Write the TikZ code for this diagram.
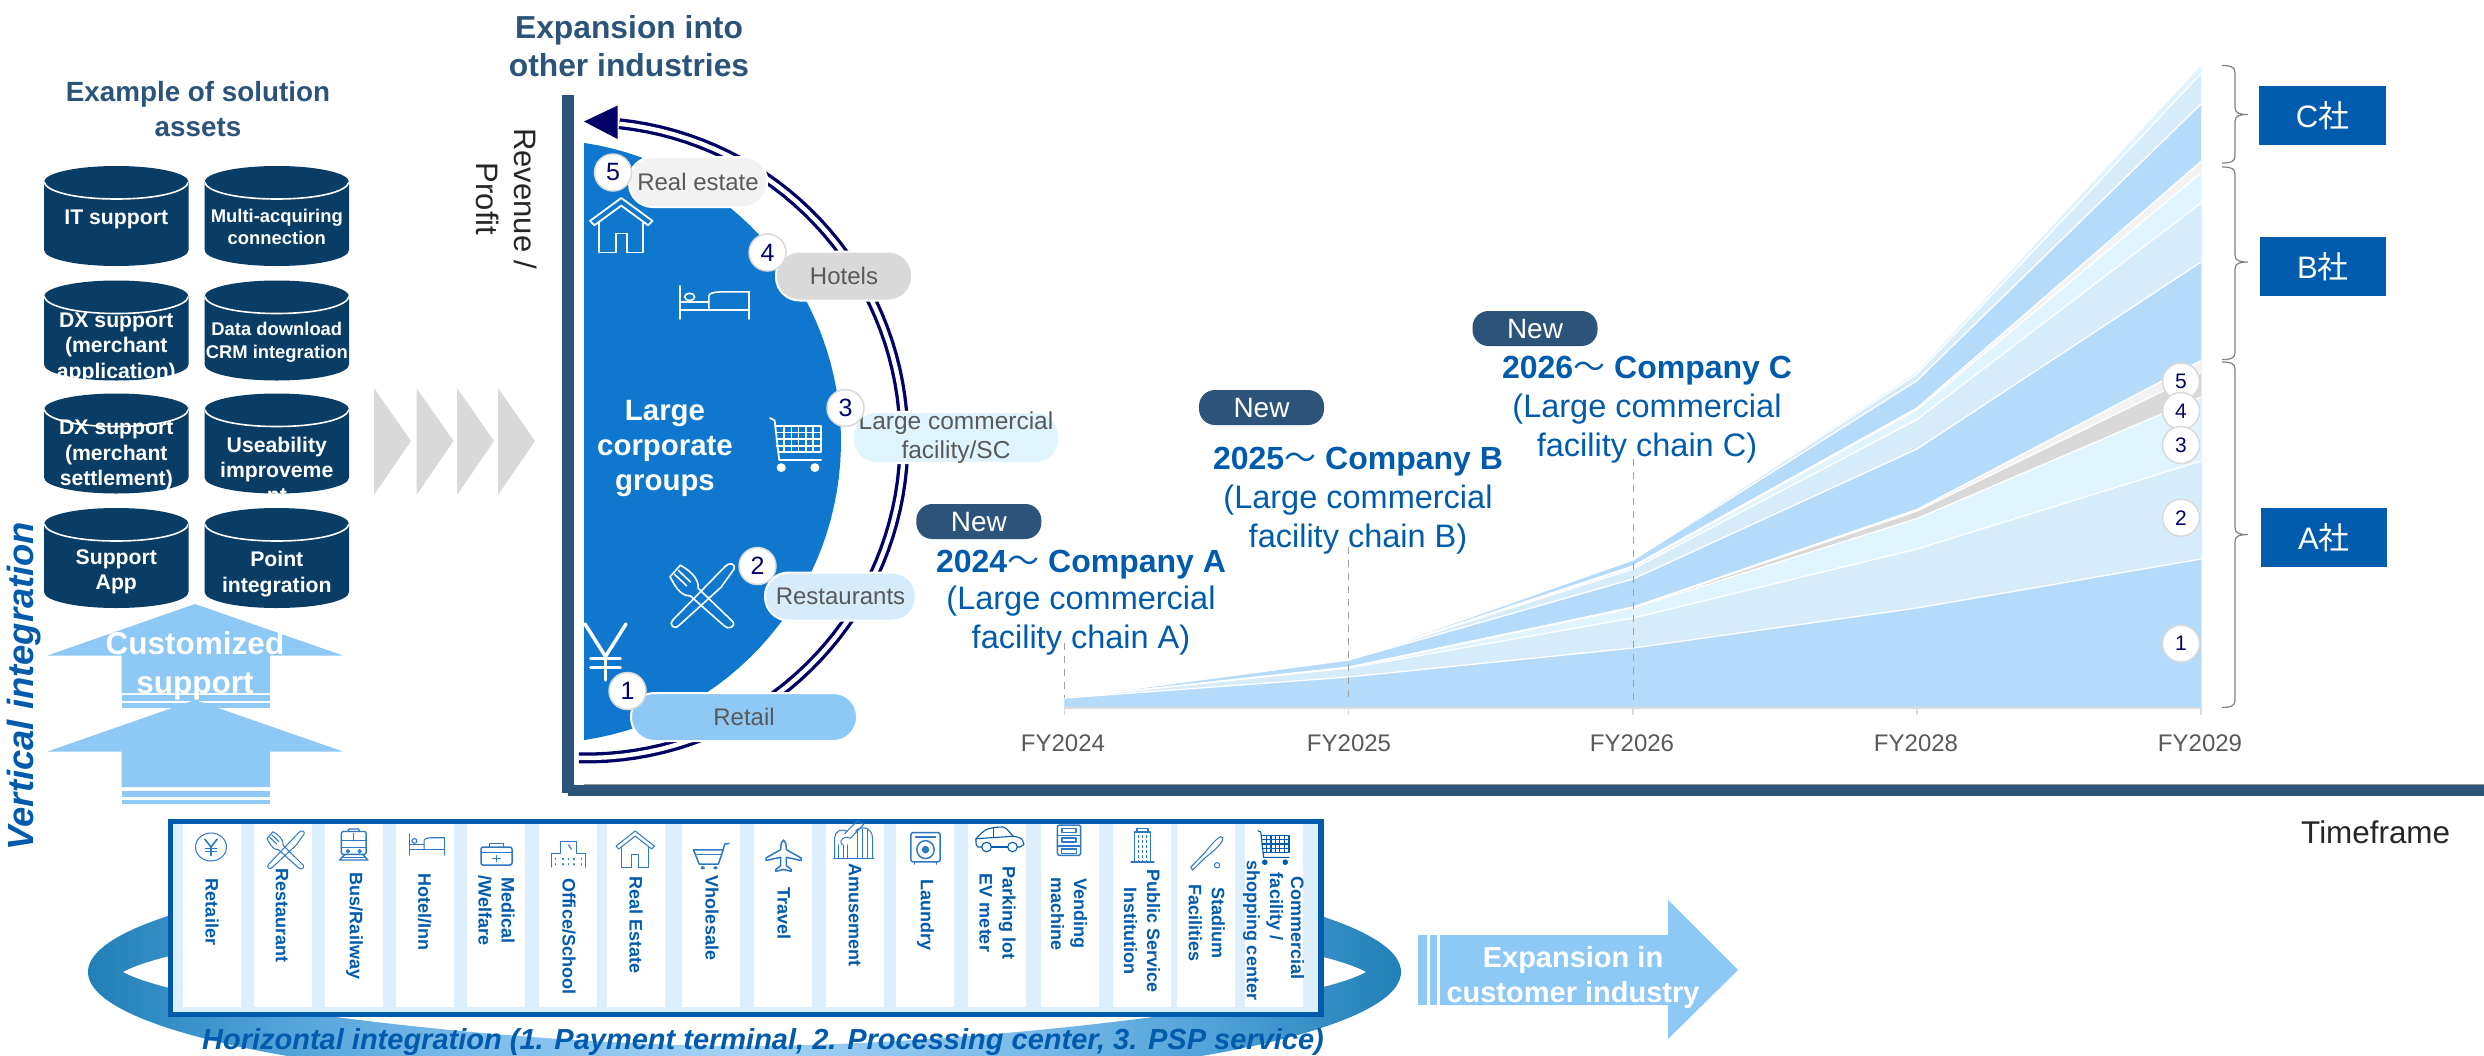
\documentclass[tikz,border=0pt]{standalone}
\usepackage{fontspec}
\setmainfont{Liberation Sans}
\newfontfamily\cjk{Noto Sans CJK JP}
\definecolor{ttl}{HTML}{2C5379}
\definecolor{cyl}{HTML}{0A3D66}
\definecolor{arr}{HTML}{8EC8F5}
\definecolor{navyx}{HTML}{000066}
\definecolor{disc}{HTML}{0F78CE}
\definecolor{brand}{HTML}{005BAC}
\definecolor{bA}{HTML}{B5DBFA}
\definecolor{bB}{HTML}{D7ECFB}
\definecolor{bC}{HTML}{DFF4FE}
\definecolor{gD}{HTML}{D9D9D9}
\definecolor{gE}{HTML}{F2F2F2}
\definecolor{txg}{HTML}{595959}
\definecolor{icb}{HTML}{2F78C4}
\definecolor{ringa}{HTML}{2080B8}
\definecolor{ringb}{HTML}{55A5DA}
\definecolor{ringc}{HTML}{7DBDEA}
\definecolor{ringd}{HTML}{A5D2F5}
\pgfdeclarehorizontalshading{ringsh}{100bp}{color(0bp)=(ringa);color(25bp)=(ringa);color(33bp)=(ringb);color(40bp)=(ringc);color(50bp)=(ringd);color(60bp)=(ringc);color(67bp)=(ringb);color(75bp)=(ringa);color(100bp)=(ringa)}
\newcommand{\fsz}[2]{\fontsize{#1}{#2}\selectfont}
\tikzset{
 lbl/.style={inner sep=0pt,align=center},
 pill/.style={rectangle,rounded corners=23.5pt,inner sep=0pt,align=center,draw=white,line width=2pt,text=txg},
 newpill/.style={rectangle,rounded corners=16pt,inner sep=0pt,minimum width=125pt,minimum height=35pt,fill=ttl,text=white,font=\fsz{28}{30}},
 badge/.style={circle,inner sep=0pt,minimum size=37pt,fill=white,draw=gD,line width=1.5pt,text=navyx},
 co/.style={lbl,text=brand,font=\bfseries\fsz{32}{38}},
 cosub/.style={lbl,text=brand,font=\fsz{32.5}{39}},
 col/.style={lbl,rotate=-90,text=brand,font=\bfseries\fsz{18}{23}},
 box/.style={inner sep=0pt,fill=brand,text=white,font=\fsz{31}{33}},
 fy/.style={lbl,text=txg,font=\fsz{24}{26}},
 whitebold/.style={lbl,text=white,font=\bfseries},
 bracel/.style={draw=gray,line width=1.2pt},
 tickl/.style={draw=gD,line width=1.5pt},
 dashl/.style={draw=gray!75,line width=1.1pt,dash pattern=on 7pt off 6pt}
}
% cylinder: x centre, top y, name, text y, font size, baseline, text
\newcommand{\cylnode}[7]{%
 \begin{scope}
  \def\cpath{({#1-72.25},{#2+16}) -- ({#1-72.25},{#2+84}) .. controls ({#1-72.25},{#2+93}) and ({#1-40},{#2+100}) .. ({#1},{#2+100}) .. controls ({#1+40},{#2+100}) and ({#1+72.25},{#2+93}) .. ({#1+72.25},{#2+84}) -- ({#1+72.25},{#2+16}) .. controls ({#1+72.25},{#2+7}) and ({#1+40},{#2}) .. ({#1},{#2}) .. controls ({#1-40},{#2}) and ({#1-72.25},{#2+7}) .. cycle}
  \fill[cyl] \cpath;
  \clip \cpath;
  \node[whitebold,font=\bfseries\fsz{#5}{#6}] (#3) at (#1,{#4+2}) {#7};
  \draw[white,line width=1.6pt] ({#1-72.25},{#2+16}) .. controls ({#1-70},{#2+26}) and ({#1-40},{#2+33}) .. ({#1},{#2+33}) .. controls ({#1+40},{#2+33}) and ({#1+70},{#2+26}) .. ({#1+72.25},{#2+16});
 \end{scope}}
% stacked band: colour, five tops
\newcommand{\band}[6]{%
 \fill[#1] (1064.5,#2) -- (1348.5,#3) -- (1633,#4) -- (1917,#5) -- (2201,#6) -- (2201,708) -- (1064.5,708) -- cycle;
 \draw[white,line width=1.3pt] (1064.5,#2) -- (1348.5,#3) -- (1633,#4) -- (1917,#5) -- (2201,#6);}
% brace: top y, tip y, bottom y
\newcommand{\bracex}[3]{%
 \draw[bracel] (2222,#1) .. controls (2230,#1) and (2235,{#1+1}) .. (2235,{#1+7}) -- (2235,{#2-7}) .. controls (2235,{#2-1}) and (2240,#2) .. (2248,#2) .. controls (2240,#2) and (2235,{#2+1}) .. (2235,{#2+7}) -- (2235,{#3-7}) .. controls (2235,{#3-1}) and (2230,#3) .. (2222,#3);}
% icon in a box: x0 y0 x1 y1 colour linewidth drawing (0..100 both ways)
\newcommand{\icon}[7]{%
 \pgfmathsetmacro{\sx}{(#3-#1)/100}\pgfmathsetmacro{\sy}{(#4-#2)/100}%
 \begin{scope}[shift={(#1,#2)},x=\sx pt,y=-\sy pt,ic/.style={draw=#5,line width=#6pt,line join=round,line cap=round},fc/.style={fill=#5}]
 #7
 \end{scope}}
\newcommand{\icHouse}{\draw[ic] (0,42)--(50,0)--(100,42)--(93,50)--(50,14)--(7,50)--cycle;
 \draw[ic] (15,46)--(15,100)--(41,100)--(41,65)--(59,65)--(59,100)--(85,100)--(85,46);}
\newcommand{\icBed}{\draw[ic] (1,0)--(1,100); \draw[ic] (99,18)--(99,100); \draw[ic] (1,72)--(99,72);
 \draw[ic] (42,72)--(42,30) .. controls (42,22) and (50,18) .. (58,18)--(99,18);
 \draw[ic] (1,48)--(42,48); \draw[ic] (15,33) ellipse [x radius=7,y radius=11];}
\newcommand{\icFork}{\draw[ic] (100,8) .. controls (104,0) and (92,-4) .. (86,4) -- (4,88) .. controls (-2,94) and (6,104) .. (14,96) -- (56,58) -- (80,36) -- cycle;
 \draw[ic] (44,38) -- (98,90) .. controls (104,98) and (90,104) .. (84,96) -- (32,50);
 \draw[ic] (32,50) .. controls (14,50) and (6,30) .. (0,20) -- (16,2) .. controls (28,8) and (46,22) .. (44,38);
 \draw[ic] (7,16)--(26,34); \draw[ic] (13,10)--(32,28);}
\newcommand{\icCart}{\draw[ic] (0,2)--(9,6)--(18,78)--(100,78); \draw[ic] (12,16)--(100,16)--(100,64)--(16,64);
 \foreach \u in {28,42,56,70,85}{\draw[ic] (\u,16)--(\u,64);}
 \foreach \v in {28,40,52}{\draw[ic] (13,\v)--(100,\v);}
 \fill[fc] (22,92) ellipse [x radius=9,y radius=8]; \fill[fc] (88,92) ellipse [x radius=9,y radius=8];}
\newcommand{\icYen}{\draw[ic] (0,0)--(50,58)--(100,0); \draw[ic] (50,58)--(50,100); \draw[ic] (14,62)--(86,62); \draw[ic] (14,78)--(86,78);}
\begin{document}
\begin{tikzpicture}[x=1pt,y=-1pt]
\useasboundingbox (0,0) rectangle (2484,1055);
\fill[white] (0,0) rectangle (2484,1055);
% --- titles
\node[lbl,text=ttl,font=\bfseries\fsz{27.8}{34.5}] (tAssets) at (198,109) {Example of solution\\assets};
\node[lbl,text=ttl,font=\bfseries\fsz{31.8}{38.5}] (tExp) at (629,46) {Expansion into\\other industries};
% --- cylinders
\cylnode{116.3}{166}{c1}{217}{21.2}{25}{IT support}
\cylnode{276.8}{166}{c2}{225}{18.4}{22.5}{Multi-acquiring\\connection}
\cylnode{116.3}{280.5}{c3}{345.5}{21.2}{25.5}{DX support\\(merchant\\application)}
\cylnode{276.8}{280.5}{c4}{340}{18.4}{23}{Data download\\CRM integration}
\cylnode{116.3}{393.5}{c5}{453}{21.2}{25.5}{DX support\\(merchant\\settlement)}
\cylnode{276.8}{393.5}{c6}{468}{21.2}{25}{Useability\\improveme\\nt}
\cylnode{116.3}{508}{c7}{570}{21.2}{25.5}{Support\\App}
\cylnode{276.8}{508}{c8}{572}{21.2}{25.5}{Point\\integration}
% --- vertical arrows
\fill[arr] (195,604) -- (343,655.5) -- (270,655.5) -- (270,693) -- (121.5,693) -- (121.5,655.5) -- (47.5,655.5) -- cycle;
\fill[arr] (121.5,695) rectangle (270,700.5);
\fill[arr] (121.5,703) rectangle (270,708);
\fill[arr] (195,700) -- (343,751.5) -- (270,751.5) -- (270,787) -- (121.5,787) -- (121.5,751.5) -- (47.5,751.5) -- cycle;
\fill[arr] (121.5,791) rectangle (270,797);
\fill[arr] (121.5,800) rectangle (270,804);
\node[whitebold,font=\bfseries\fsz{31.5}{38.5}] (cust) at (195,666) {Customized\\support};
\node[lbl,rotate=90,text=brand,font=\bfseries\itshape\fsz{36.4}{40}] (vert) at (24,686) {Vertical integration};
% --- chevrons
\foreach \a in {374,416.5,457,498}{\fill[gD] (\a,388) -- ({\a+37},441) -- (\a,495) -- cycle;}
% --- axis
\fill[ttl] (562,95) rectangle (574,793);
\fill[ttl] (568,785) rectangle (2484,796);
\draw[gray!80,line width=.8pt] (584,784.6) -- (2484,784.6);
\node[lbl,rotate=-90,text=black!85,font=\fsz{31}{38}] (revp) at (507,199) {Revenue /\\Profit};
\node[lbl,text=black!85,font=\fsz{31.4}{33},anchor=west] (time) at (2301,832) {Timeframe};
% --- double arc
\draw[navyx,line width=3.3pt,double=white,double distance=4.4pt] plot[domain=91.3:-84,samples=70] ({586+318*cos(\x)},{440+318*sin(\x)});
\fill[navyx] (584,121.5) -- (617.5,105.6) -- (617.5,139) -- cycle;
% --- disc
\fill[disc] plot[domain=-81.4:81.4,samples=60] ({539+302*cos(\x)},{441.5+302*sin(\x)}) -- cycle;
\icon{590}{198}{652.5}{252.5}{white}{1.8}{\icHouse}
\icon{679}{286}{750}{319}{white}{1.6}{\icBed}
\icon{770}{417}{821}{472}{white}{1.8}{\icCart}
\icon{670}{564}{734}{628}{white}{1.6}{\icFork}
\icon{585}{624}{626}{680}{white}{3.5}{\icYen}
\node[whitebold,font=\bfseries\fsz{29.4}{35}] (lcg) at (665,448.5) {Large\\corporate\\groups};
% --- pills
\node[pill,minimum width=138pt,minimum height=50pt,fill=gE,font=\fsz{24}{28}] (pRE) at (698,182) {Real estate};
\node[pill,minimum width=136pt,minimum height=49pt,fill=gD,font=\fsz{24}{28}] (pHo) at (844,276) {Hotels};
\node[pill,minimum width=206pt,minimum height=50pt,fill=bC,font=\fsz{24.5}{28.5}] (pLC) at (956,437.5) {Large commercial\\facility/SC};
\node[pill,minimum width=151pt,minimum height=48pt,fill=bB,font=\fsz{24}{28}] (pRs) at (840.5,596.5) {Restaurants};
\node[pill,minimum width=226pt,minimum height=48pt,fill=arr,font=\fsz{24}{28}] (pRt) at (744,717) {Retail};
\node[badge,font=\fsz{25}{26}] (b5) at (613,172.5) {5};
\node[badge,font=\fsz{25}{26}] (b4) at (767.5,252.5) {4};
\node[badge,font=\fsz{25}{26}] (b3) at (845.5,408) {3};
\node[badge,font=\fsz{25}{26}] (b2) at (757.5,566) {2};
\node[badge,font=\fsz{25}{26}] (b1) at (627.5,691) {1};
% --- stacked chart
\band{bC}{698}{660}{559}{371}{64.5}
\band{bB}{698}{660}{559.5}{374}{73.5}
\band{bA}{698}{660}{560}{380.6}{104}
\band{gE}{698}{660}{566}{408}{161.4}
\band{bC}{698}{660}{566.7}{409.6}{173}
\band{bB}{698}{660}{569}{419.5}{203}
\band{bA}{698}{660}{579}{449}{262}
\band{gE}{698}{667.2}{607}{509.5}{360.5}
\band{gD}{698}{667.3}{607.5}{511}{372.6}
\band{bC}{698}{667.5}{608}{518.6}{397}
\band{bB}{698}{668}{618}{549}{461}
\band{bA}{698}{677}{648}{608}{559}
\draw[tickl] (1064.5,708) -- (2201,708);
\foreach \t in {1064.5,1348.5,1633,1917,2201}{\draw[tickl] (\t,708) -- (\t,715);}
\draw[dashl] (1064.5,643) -- (1064.5,698);
\draw[dashl] (1348.5,547) -- (1348.5,700);
\draw[dashl] (1633.5,459) -- (1633.5,700);
\node[fy] (fy24) at (1063,743) {FY2024};
\node[fy] (fy25) at (1349,743) {FY2025};
\node[fy] (fy26) at (1632,743) {FY2026};
\node[fy] (fy28) at (1916,743) {FY2028};
\node[fy] (fy29) at (2200,743) {FY2029};
\node[badge,font=\fsz{21}{22}] (s5) at (2181,381.5) {5};
\node[badge,font=\fsz{21}{22}] (s4) at (2181,411) {4};
\node[badge,font=\fsz{21}{22}] (s3) at (2181,445) {3};
\node[badge,font=\fsz{21}{22}] (s2) at (2181,517.7) {2};
\node[badge,font=\fsz{21}{22}] (s1) at (2181,643.6) {1};
% --- new + company labels
\node[newpill] (n1) at (978.8,521.5) {New};
\node[newpill] (n2) at (1261.5,407.5) {New};
\node[newpill] (n3) at (1535,328.5) {New};
\node[co] (ca) at (1081,564.5) {2024{\mdseries\cjk 〜} Company A};
\node[cosub] (sa) at (1081,621) {(Large commercial\\facility chain A)};
\node[co] (cb) at (1358,461.5) {2025{\mdseries\cjk 〜} Company B};
\node[cosub] (sb) at (1358,520) {(Large commercial\\facility chain B)};
\node[co] (cc) at (1647,370.5) {2026{\mdseries\cjk 〜} Company C};
\node[cosub] (sc) at (1647,429) {(Large commercial\\facility chain C)};
% --- braces and boxes
\bracex{65.5}{114.5}{163}
\bracex{167}{262}{359.6}
\bracex{362}{534.6}{707.4}
\node[box,minimum width=127pt,minimum height=59pt] (bxC) at (2322.5,115.5) {C{\cjk 社}};
\node[box,minimum width=126pt,minimum height=59pt] (bxB) at (2323,266.5) {B{\cjk 社}};
\node[box,minimum width=126pt,minimum height=59pt] (bxA) at (2324,537.5) {A{\cjk 社}};
% --- ring
\begin{scope}
\clip (0,0) rectangle (2484,1055);
\shade[even odd rule,shading=ringsh]
 (744.5,972) ellipse [x radius=656.5pt,y radius=117pt]
 (123,972) .. controls (180,1005) and (520,1046) .. (744.5,1046) .. controls (969,1046) and (1309,1005) .. (1366,972)
 .. controls (1309,939) and (969,898) .. (744.5,898) .. controls (520,898) and (180,939) .. (123,972) -- cycle;
\end{scope}
% --- industry box
\fill[brand] (167.6,819) rectangle (1323.6,1017);
\fill[bB!85!white] (173.4,824.3) rectangle (1318,1012);
\foreach \a/\b in {182.5/241,254/312,325/383,396/454,467/525,539/597,607/665,682/740,754/812,826/884,896/954,968/1026,1041/1099,1113/1171,1177/1235,1245/1303}{\fill[white] (\a,824.3) rectangle (\b,1006.7);}
% small icons
\icon{195.5}{833}{226.5}{861}{icb}{1}{\draw[ic] (50,50) ellipse [x radius=50,y radius=50]; \draw[ic,line width=1.6pt] (30,22)--(50,50)--(70,22); \draw[ic,line width=1.6pt] (50,50)--(50,80); \draw[ic] (32,55)--(68,55); \draw[ic] (32,66)--(68,66);}
\icon{267}{831}{304}{869}{icb}{1}{\icFork}
\icon{339}{829}{368.5}{860}{icb}{1.4}{\draw[ic,rounded corners=2pt] (8,8) rectangle (92,82); \draw[ic] (30,8)--(34,0)--(66,0)--(70,8); \draw[ic] (8,38)--(92,38); \draw[ic] (50,14)--(50,38); \draw[ic] (8,60)--(92,60); \draw[ic] (30,72) circle [radius=5]; \draw[ic] (70,72) circle [radius=5]; \draw[ic] (20,82)--(2,100)--(98,100)--(80,82); \draw[ic] (14,91)--(86,91);}
\icon{409}{834}{445}{855}{icb}{1.1}{\icBed}
\icon{481}{842}{512}{865}{icb}{1.5}{\draw[ic,rounded corners=2pt] (0,22) rectangle (100,100); \draw[ic] (28,22)--(28,6)--(72,6)--(72,22); \draw[ic] (0,45)--(100,45); \draw[ic] (50,60)--(50,85); \draw[ic] (38,72)--(62,72);}
\icon{550}{840}{587}{867}{icb}{1.2}{\draw[ic] (3,100)--(3,50)--(28,50)--(28,5)--(72,5)--(72,50)--(97,50)--(97,100); \draw[ic] (50,18)--(58,34); \foreach \u in {15,35,65,85}{\draw[ic] (\u,68)--(\u,72); \draw[ic] (\u,88)--(\u,92);} \foreach \u in {50}{\draw[ic] (\u,68)--(\u,72); \draw[ic] (\u,88)--(\u,92);}}
\icon{616}{831}{654.4}{867}{icb}{1}{\icHouse}
\icon{693.5}{843}{729}{870}{icb}{1.5}{\draw[ic] (0,25)--(84,25)--(70,78)--(16,78)--cycle; \draw[ic] (84,25)--(88,4)--(100,2); \draw[ic] (10,42)--(78,42); \fill[fc] (26,92) circle [radius=6]; \fill[fc] (62,92) circle [radius=6];}
\icon{766}{840}{801}{872}{icb}{1.5}{\draw[ic] (50,0) .. controls (44,4) and (42,12) .. (42,30) -- (0,56) -- (0,64) -- (42,54) -- (42,80) -- (28,92) -- (28,98) -- (50,92) -- (72,98) -- (72,92) -- (58,80) -- (58,54) -- (100,64) -- (100,56) -- (58,30) .. controls (58,12) and (56,4) .. (50,0) -- cycle;}
\icon{833.5}{825}{873.7}{858}{icb}{1}{\draw[ic] (0,100)--(100,100); \draw[ic] (3,100)--(3,38) .. controls (3,20) and (20,8) .. (34,20); \draw[ic] (55,18) .. controls (70,0) and (97,8) .. (97,40) -- (97,100); \foreach \u in {12,24,36,60,72,84}{\draw[ic] (\u,60)--(\u,100);} \foreach \u in {60,72,84}{\draw[ic] (\u,12)--(\u,60);} \draw[ic] (22,60) .. controls (10,45) and (30,30) .. (42,40) -- (75,-2) -- (60,-14) -- (28,26); }
\icon{910}{832}{941}{864}{icb}{1.5}{\draw[ic,rounded corners=2pt] (3,2) rectangle (97,93); \draw[ic] (18,16)--(82,16); \draw[ic] (50,55) circle [radius=28]; \fill[fc] (50,55) circle [radius=12]; \draw[ic] (15,93)--(15,100); \draw[ic] (85,93)--(85,100);}
\icon{976}{827}{1024}{852}{brand}{1.1}{\draw[ic] (12,80)--(4,80) .. controls (0,78) and (0,70) .. (0,47) .. controls (8,30) and (18,10) .. (26,7) .. controls (36,1) and (48,0) .. (57,0) .. controls (66,6) and (72,28) .. (78,37) .. controls (88,40) and (96,46) .. (97,53) -- (100,70) -- (92,80) -- (86,80); \draw[ic] (32,80)--(66,80); \draw[ic] (0,47)--(78,37); \draw[ic] (36,3)--(36,42); \draw[ic] (22,80) ellipse [x radius=10,y radius=19]; \draw[ic] (76,80) ellipse [x radius=10,y radius=19];}
\icon{1057}{825}{1081}{858}{icb}{1.5}{\draw[ic,rounded corners=2pt] (2,0) rectangle (98,92); \draw[ic] (2,32)--(98,32); \draw[ic] (2,64)--(98,64); \draw[ic] (20,10) rectangle (80,22); \draw[ic] (20,40) rectangle (80,52); \draw[ic] (18,72) rectangle (82,86);}
\icon{1131}{828}{1154}{862}{icb}{1.2}{\draw[ic] (0,100)--(100,100); \draw[ic] (16,100)--(16,12)--(84,12)--(84,100); \draw[ic] (26,12)--(26,2)--(74,2)--(74,12); \foreach \u in {32,50,68}{\draw[icb,line width=1.6pt,dash pattern=on 3pt off 2pt] (\u,20)--(\u,96);}}
\icon{1190}{836}{1223}{870}{icb}{1}{\draw[ic] (2,92) -- (44,50) .. controls (62,28) and (82,6) .. (92,2) .. controls (100,0) and (102,8) .. (98,14) .. controls (90,28) and (70,46) .. (48,62) -- (8,100) -- cycle; \draw[ic] (82,86) ellipse [x radius=8,y radius=8];}
\icon{1258}{830}{1289}{865}{brand}{1.1}{\icCart}
% column labels
\node[col] (l1) at (212,912) {Retailer};
\node[col] (l2) at (282,915.5) {Restaurant};
\node[col] (l3) at (354.6,926) {Bus/Railway};
\node[col] (l4) at (424.6,912) {Hotel/Inn};
\node[col] (l5) at (496.5,910.7) {Medical\\/Welfare};
\node[col] (l6) at (569,936) {Office/School};
\node[col] (l7) at (636,925) {Real Estate};
\node[col] (l8) at (712,918) {Vholesale};
\node[col] (l9) at (784,913.7) {Travel};
\node[col] (l10) at (855,915) {Amusement};
\node[col] (l11) at (925.6,915) {Laundry};
\node[col] (l12) at (997.5,913) {Parking lot\\EV meter};
\node[col] (l13) at (1069,913.8) {Vending\\machine};
\node[col] (l14) at (1142,931) {Public Service\\Institution};
\node[col] (l15) at (1206.7,922.8) {Stadium\\Facilities};
\node[col] (l16a) at (1297.6,928) {Commercial};
\node[col] (l16b) at (1274.7,906.5) {facility /};
\node[col] (l16c) at (1251.5,930) {shopping center};
\node[lbl,text=brand,font=\bfseries\itshape\fsz{29}{32}] (hint) at (763,1041.5) {Horizontal integration (1. Payment terminal, 2. Processing center, 3. PSP service)};
% --- big arrow
\fill[arr] (1418,935) rectangle (1427,1005);
\fill[arr] (1430,935) rectangle (1437,1005);
\fill[arr] (1440,935) -- (1668,935) -- (1668,900) -- (1738,970) -- (1668,1039) -- (1668,1005) -- (1440,1005) -- cycle;
\node[whitebold,font=\bfseries\fsz{29}{35}] (expn) at (1573,977.5) {Expansion in\\customer industry};
\end{tikzpicture}
\end{document}
